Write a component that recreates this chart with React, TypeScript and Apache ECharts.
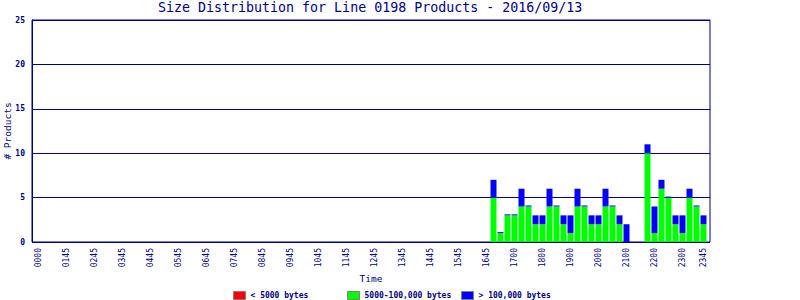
import React, { useEffect, useRef } from "react";
import * as echarts from "echarts";

const TITLE = "Size Distribution for Line 0198 Products - 2016/09/13";
const NAVY = "#000080";

// 15-minute bins across the day (category axis)
const categories: string[] = Array.from({ length: 96 }, (_, i) => {
  const m = i * 15;
  const h = Math.floor(m / 60);
  const mm = m % 60;
  return String(h).padStart(2, "0") + String(mm).padStart(2, "0");
});

// tick labels as printed on the original x axis, and the bin index where each sits
const tickLabels = [
  "0000", "0145", "0245", "0345", "0445", "0545", "0645", "0745", "0845",
  "0945", "1045", "1145", "1245", "1345", "1445", "1545", "1645",
  "1700", "1800", "1900", "2000", "2100", "2200", "2300", "2345",
];
const tickPositions = [
  0, 4, 8, 12, 16, 20, 24, 28, 32, 36, 40, 44, 48, 52, 56, 60, 64,
  68, 72, 76, 80, 84, 88, 92, 95,
];

// bins that hold data
const binTimes = [
  "1615", "1630", "1645", "1700", "1715", "1730", "1745", "1800", "1815", "1830",
  "1845", "1900", "1915", "1930", "1945", "2000", "2015", "2030", "2045", "2100",
  "2115", "2130", "2145", "2200", "2215", "2230", "2245", "2300", "2315", "2330",
  "2345",
];
const smallCounts = [
  0, 0, 0, 0, 0, 0, 0, 0, 0, 0, 0, 0, 0, 0, 0, 0, 0, 0, 0, 0, 0, 0, 0, 0, 0, 0, 0,
  0, 0, 0, 0,
];
const mediumCounts = [
  5, 1, 3, 3, 4, 4, 2, 2, 4, 4, 2, 1, 4, 4, 2, 2, 4, 4, 2, 0, 0, 0, 10, 1, 6, 5, 2,
  1, 5, 4, 2,
];
const largeCounts: (number | null)[] = [
  2, 0, 0, 0, 2, 0, 1, 1, 2, 0, 1, 2, 2, 0, 1, 1, 2, 0, 1, 2, null, null, 1, 3, 1,
  0, 1, 2, 1, 0, 1,
];

const seriesNames = ["< 5000 bytes", "5000-100,000 bytes", "> 100,000 bytes"];
const seriesColors = ["#ff0000", "#00ff00", "#0000ff"];

const MONO = "'DejaVu Sans Mono', 'Liberation Mono', monospace";

export default function App() {
  const ref = useRef<HTMLDivElement>(null);
  useEffect(() => {
    if (!ref.current) return;
    const chart = echarts.init(ref.current, undefined, { renderer: "svg" });
    const tickMap = new Map<number, string>();
    tickPositions.forEach((p, i) => tickMap.set(p, tickLabels[i]));
    const toPairs = (arr: (number | null)[]) =>
      binTimes.map((t, i) => [t, arr[i] === null ? "-" : arr[i]]);
    const legendBase = (left: number, name: string) => ({
      show: true,
      left,
      top: 291,
      padding: 0,
      itemWidth: 12,
      itemHeight: 8,
      icon: "rect",
      data: [name],
      selectedMode: false,
      itemStyle: { borderColor: "#808080", borderWidth: 1 },
      textStyle: { fontFamily: MONO, fontSize: 8, color: NAVY, fontWeight: "bold" },
    });
    chart.setOption({
      animation: false,
      backgroundColor: "#ffffff",
      title: {
        text: TITLE,
        left: 158,
        top: 1,
        padding: 0,
        textStyle: { fontFamily: MONO, fontSize: 13.3, fontWeight: "normal", color: NAVY },
      },
      legend: [
        legendBase(233, seriesNames[0]),
        legendBase(347, seriesNames[1]),
        legendBase(461, seriesNames[2]),
      ],
      grid: [
        {
          left: 32,
          top: 20,
          width: 678,
          height: 222,
          show: true,
          borderColor: NAVY,
          borderWidth: 1,
          backgroundColor: "transparent",
          containLabel: false,
          outerBoundsMode: "none",
        },
        {
          left: 35,
          top: 20,
          width: 672,
          height: 222,
          containLabel: false,
          outerBoundsMode: "none",
        },
      ],
      xAxis: [
        { gridIndex: 0, type: "value", show: false, min: 0, max: 1 },
        {
          gridIndex: 1,
          type: "category",
          data: categories,
          boundaryGap: true,
          axisLine: { show: false },
          axisTick: { show: false },
          axisLabel: {
            interval: 0,
            rotate: 90,
            margin: 6,
            fontFamily: MONO,
            fontSize: 8,
            color: NAVY,
            formatter: (_v: string, idx: number) => tickMap.get(idx) ?? "",
          },
          name: "Time",
          nameLocation: "middle",
          nameGap: 31,
          nameMoveOverlap: false,
          nameTextStyle: {
            fontFamily: MONO,
            fontSize: 9.5,
            color: NAVY,
            verticalAlign: "top",
          },
        },
      ],
      yAxis: [
        {
          gridIndex: 0,
          type: "value",
          min: 0,
          max: 25,
          interval: 5,
          axisLine: { show: true, lineStyle: { color: NAVY, width: 1 } },
          axisTick: { show: false },
          splitLine: { show: true, lineStyle: { color: NAVY, width: 1 } },
          axisLabel: { fontFamily: MONO, fontSize: 8, color: NAVY, margin: 7, fontWeight: "bold" },
          name: "# Products",
          nameLocation: "middle",
          nameGap: 20,
          nameRotate: 90,
          nameMoveOverlap: false,
          nameTextStyle: { fontFamily: MONO, fontSize: 9.5, color: NAVY },
        },
        { gridIndex: 1, type: "value", min: 0, max: 25, show: false },
      ],
      series: [
        {
          name: seriesNames[0],
          type: "bar",
          stack: "size",
          xAxisIndex: 1,
          yAxisIndex: 1,
          barWidth: 6,
          itemStyle: { color: seriesColors[0] },
          data: toPairs(smallCounts),
        },
        {
          name: seriesNames[1],
          type: "bar",
          stack: "size",
          xAxisIndex: 1,
          yAxisIndex: 1,
          barWidth: 6,
          itemStyle: { color: seriesColors[1] },
          data: toPairs(mediumCounts),
        },
        {
          name: seriesNames[2],
          type: "bar",
          stack: "size",
          xAxisIndex: 1,
          yAxisIndex: 1,
          barWidth: 6,
          barMinHeight: 1,
          itemStyle: { color: seriesColors[2] },
          data: toPairs(largeCounts),
        },
      ],
    });
    return () => chart.dispose();
  }, []);
  return (
    <div
      ref={ref}
      style={{ position: "fixed", left: 0, top: 0, width: 800, height: 300, background: "#fff" }}
    />
  );
}
